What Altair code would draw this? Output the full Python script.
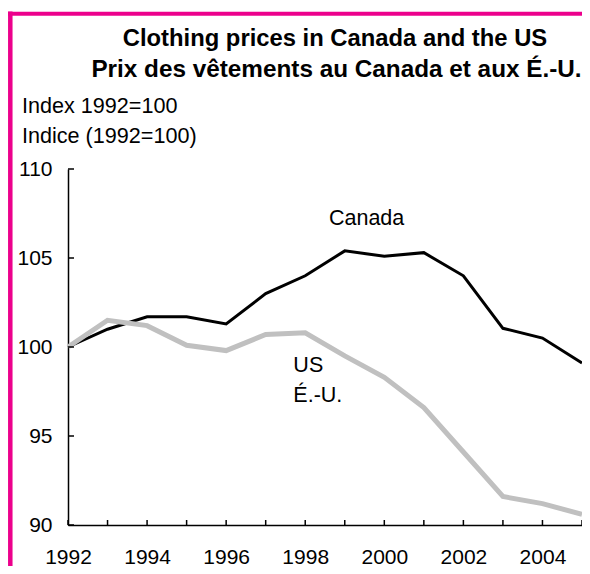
import altair as alt
import pandas as pd

years = list(range(1992, 2006))
canada = [100.0, 101.0, 101.7, 101.7, 101.3, 103.0, 104.0, 105.4, 105.1, 105.3, 104.0, 101.05, 100.5, 99.1]
us = [100.0, 101.5, 101.2, 100.1, 99.8, 100.7, 100.8, 99.5, 98.3, 96.6, 94.1, 91.6, 91.2, 90.6]
x_labels = [1992, 1994, 1996, 1998, 2000, 2002, 2004]
y_ticks = [90, 95, 100, 105, 110]
title_lines = ["Clothing prices in Canada and the US", "Prix des vêtements au Canada et aux É.-U."]
unit_lines = ["Index 1992=100", "Indice (1992=100)"]

FONT = "Liberation Sans"
PINK = "#EC008C"
W, H = 514, 356

df_ca = pd.DataFrame({"year": years, "value": canada})
df_us = pd.DataFrame({"year": years, "value": us})
df_years = pd.DataFrame({"year": years})
df_yt = pd.DataFrame({"v": y_ticks})

xscale = alt.Scale(domain=[1992, 2005], nice=False, zero=False)
yscale = alt.Scale(domain=[90, 110], nice=False, zero=False)

xaxis = alt.Axis(values=x_labels, format="d", ticks=False, grid=False, title=None,
                 labelFont=FONT, labelFontSize=21, labelColor="black", labelPadding=21,
                 domainColor="black", domainWidth=1.5, labelFlush=False)
yaxis = alt.Axis(values=y_ticks, ticks=False, grid=False, title=None,
                 labelFont=FONT, labelFontSize=21, labelColor="black", labelPadding=16,
                 domainColor="black", domainWidth=1.5)

base_x = alt.X("year:Q", scale=xscale, axis=xaxis)
base_y = alt.Y("value:Q", scale=yscale, axis=yaxis)

line_ca = alt.Chart(df_ca).mark_line(color="black", strokeWidth=3).encode(x=base_x, y=base_y)
line_us = alt.Chart(df_us).mark_line(color="#C0C0C0", strokeWidth=5).encode(x=base_x, y=base_y)

xticks = alt.Chart(df_years).mark_rule(color="black", strokeWidth=1.5).encode(
    x=alt.X("year:Q", scale=xscale), y=alt.value(H), y2=alt.value(H - 5))
yticks = alt.Chart(df_yt).mark_rule(color="black", strokeWidth=1.5).encode(
    y=alt.Y("v:Q", scale=yscale), x=alt.value(0), x2=alt.value(6))

lab_df = pd.DataFrame({
    "year": [1998.6, 1997.7, 1997.7],
    "value": [106.85, 98.6, 96.9],
    "t": ["Canada", "US", "É.-U."],
})
labels = alt.Chart(lab_df).mark_text(font=FONT, fontSize=21.5, align="left", baseline="alphabetic",
                                     color="black").encode(
    x=alt.X("year:Q", scale=xscale), y=alt.Y("value:Q", scale=yscale), text="t:N")

title1 = alt.Chart(pd.DataFrame({"t": [title_lines[0]]})).mark_text(
    font=FONT, fontSize=23.8, fontWeight="bold", align="center", baseline="alphabetic", color="black"
).encode(x=alt.value(267), y=alt.value(-123.3), text="t:N")
title2 = alt.Chart(pd.DataFrame({"t": [title_lines[1]]})).mark_text(
    font=FONT, fontSize=24.3, fontWeight="bold", align="center", baseline="alphabetic", color="black"
).encode(x=alt.value(268.5), y=alt.value(-92.3), text="t:N")

unit1 = alt.Chart(pd.DataFrame({"t": [unit_lines[0]]})).mark_text(
    font=FONT, fontSize=21.6, align="left", baseline="alphabetic", color="black"
).encode(x=alt.value(-46), y=alt.value(-56), text="t:N")
unit2 = alt.Chart(pd.DataFrame({"t": [unit_lines[1]]})).mark_text(
    font=FONT, fontSize=21.6, align="left", baseline="alphabetic", color="black"
).encode(x=alt.value(-46), y=alt.value(-26), text="t:N")

border_left = alt.Chart(pd.DataFrame({"a": [0]})).mark_rule(color=PINK, strokeWidth=4.5).encode(
    x=alt.value(-57.7), y=alt.value(-157.5), y2=alt.value(420))
border_top = alt.Chart(pd.DataFrame({"a": [0]})).mark_rule(color=PINK, strokeWidth=4).encode(
    x=alt.value(-60), x2=alt.value(W + 10), y=alt.value(-155.2))

chart = alt.layer(
    border_left, border_top, title1, title2, unit1, unit2,
    line_ca, line_us, xticks, yticks, labels
).properties(
    width=W, height=H,
    autosize=alt.AutoSizeParams(type="none"),
    padding={"left": 60, "top": 161, "right": 0, "bottom": 41},
    background="white",
).configure_view(stroke=None)

chart.save("out.html", embed_options={"renderer": "svg", "actions": False})
